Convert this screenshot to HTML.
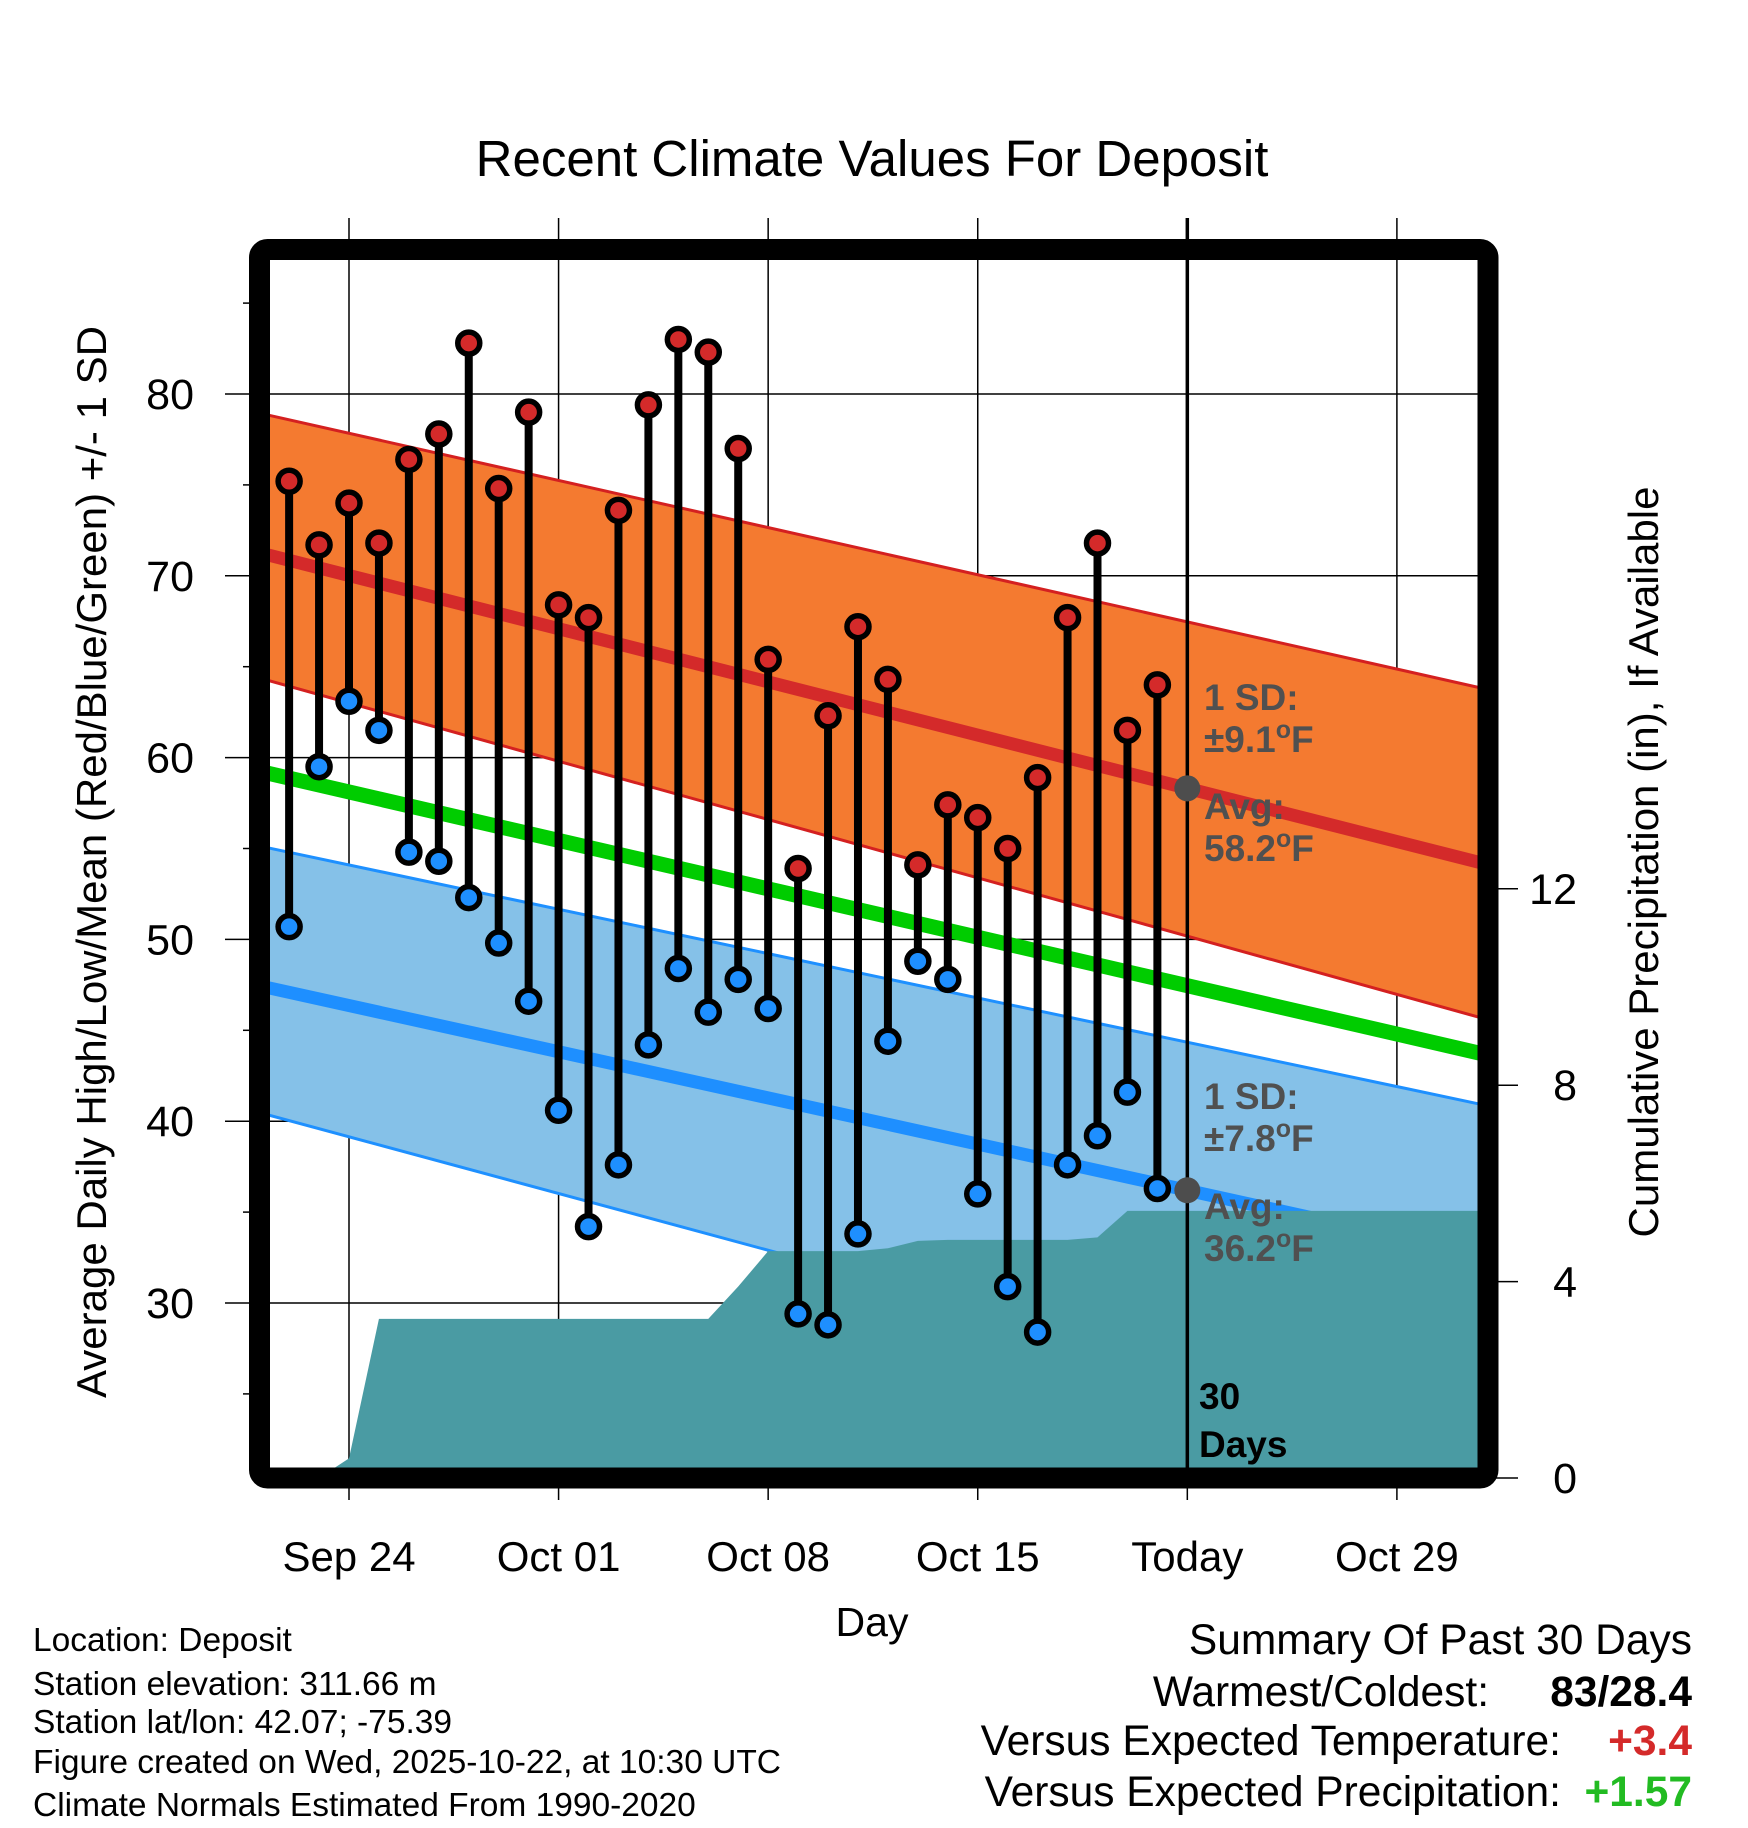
<!DOCTYPE html>
<html><head><meta charset="utf-8"><style>
html,body{margin:0;padding:0;background:#fff;}
svg{display:block;font-family:"Liberation Sans",Arial,sans-serif;}
</style></head><body>
<svg id="chart" width="1748" height="1828" viewBox="0 0 1748 1828" xmlns="http://www.w3.org/2000/svg">
<defs><clipPath id="clip"><rect x="270" y="260" width="1208" height="1208"/></clipPath></defs>
<text x="872" y="176" font-size="51" text-anchor="middle">Recent Climate Values For Deposit</text>
<g id="grid"></g>
<g id="plot" clip-path="url(#clip)"></g>
<g id="marks"></g>
<rect x="259.5" y="249.5" width="1228.5" height="1228.5" rx="8" fill="none" stroke="#000" stroke-width="21"/>
<g id="axes"></g>
<text transform="translate(106,862) rotate(-90)" font-size="42" text-anchor="middle">Average Daily High/Low/Mean (Red/Blue/Green) +/- 1 SD</text>
<text transform="translate(1658,862) rotate(-90)" font-size="42" text-anchor="middle">Cumulative Precipitation (in), If Available</text>
<text x="872" y="1636" font-size="41" text-anchor="middle">Day</text>
<g font-size="33.5">
<text x="33" y="1651">Location: Deposit</text>
<text x="33" y="1695">Station elevation: 311.66 m</text>
<text x="33" y="1733">Station lat/lon: 42.07; -75.39</text>
<text x="33" y="1773">Figure created on Wed, 2025-10-22, at 10:30 UTC</text>
<text x="33" y="1816">Climate Normals Estimated From 1990-2020</text>
</g>
<g font-size="42.5">
<text x="1692" y="1654" text-anchor="end">Summary Of Past 30 Days</text>
<text x="1489" y="1706" text-anchor="end">Warmest/Coldest:</text>
<text x="1692" y="1706" text-anchor="end" font-weight="bold">83/28.4</text>
<text x="1561" y="1755" text-anchor="end">Versus Expected Temperature:</text>
<text x="1692" y="1755" text-anchor="end" font-weight="bold" fill="#d42a2a">+3.4</text>
<text x="1561" y="1806" text-anchor="end">Versus Expected Precipitation:</text>
<text x="1692" y="1806" text-anchor="end" font-weight="bold" fill="#22bb22">+1.57</text>
</g>
</svg>
<script>
const days = [-2,-1,0,1,2,3,4,5,6,7,8,9,10,11,12,13,14,15,16,17,18,19,20,21,22,23,24,25,26,27];
const highs = [75.2,71.7,74.0,71.8,76.4,77.8,82.8,74.8,79.0,68.4,67.7,73.6,79.4,83.0,82.3,77.0,65.4,53.9,62.3,67.2,64.3,54.1,57.4,56.7,55.0,58.9,67.7,71.8,61.5,64.0];
const lows = [50.7,59.5,63.1,61.5,54.8,54.3,52.3,49.8,46.6,40.6,34.2,37.6,44.2,48.4,46.0,47.8,46.2,29.4,28.8,33.8,44.4,48.8,47.8,36.0,30.9,28.4,37.6,39.2,41.6,36.3];
const precip = [0,0,0.4,3.24,3.24,3.24,3.24,3.24,3.24,3.24,3.24,3.24,3.24,3.24,3.24,3.9,4.62,4.62,4.62,4.62,4.68,4.83,4.85,4.85,4.85,4.85,4.85,4.9,5.44,5.44];
const normalDays = [-3,38];
const hiTop = [78.95,63.76];
const hiBot = [64.38,45.6];
const hiMean = [71.27,54.13];
const loTop = [55.14,40.86];
const loBot = [40.48,22.2];
const loMean = [47.45,32.57];
const avgMean = [59.25,43.65];
const xTickDays = [0,7,14,21,28,35];
const xTickLabels = ["Sep 24","Oct 01","Oct 08","Oct 15","Today","Oct 29"];
const yTicks = [30,40,50,60,70,80];
const y2Ticks = [0,4,8,12];
const todayDay = 28;

const NS="http://www.w3.org/2000/svg";
const X=d=>349+d*29.94;
const Y=t=>394+(80-t)*18.18;
const P=p=>1478-p*49.1;
function mk(tag,parent,attrs){const e=document.createElementNS(NS,tag);for(const k in attrs)e.setAttribute(k,attrs[k]);parent.appendChild(e);return e;}
const grid=document.getElementById('grid'),plot=document.getElementById('plot'),marks=document.getElementById('marks'),axes=document.getElementById('axes');

xTickDays.forEach((d,i)=>{
  const l=mk('line',grid,{x1:X(d),x2:X(d),y1:218,y2:1500,stroke:'#000','stroke-width':1.5});
  
  
  const t=mk('text',axes,{x:X(d),y:1571,'font-size':42,'text-anchor':'middle'});
  t.textContent=xTickLabels[i];
  
  
});
yTicks.forEach(v=>{
  const l=mk('line',grid,{x1:225,x2:1478,y1:Y(v),y2:Y(v),stroke:'#000','stroke-width':1.5});
  
  
  const t=mk('text',axes,{x:194,y:Y(v)+15,'font-size':43,'text-anchor':'end'});
  t.textContent=v;
  
  
});
for(let v=25;v<=85;v+=10){
  const l=mk('line',grid,{x1:243,x2:255,y1:Y(v),y2:Y(v),stroke:'#000','stroke-width':1.5});
  
  
}
y2Ticks.forEach(v=>{
  const l=mk('line',axes,{x1:1488,x2:1518,y1:P(v),y2:P(v),stroke:'#000','stroke-width':1.5});
  
  
  const t=mk('text',axes,{x:1577,y:P(v)+15,'font-size':43,'text-anchor':'end'});
  t.textContent=v;
  
  
});

function band(top,bot,fill,edge,name){
  const pts=[[X(normalDays[0]),Y(top[0])],[X(normalDays[1]),Y(top[1])],[X(normalDays[1]),Y(bot[1])],[X(normalDays[0]),Y(bot[0])]];
  const p=mk('polygon',plot,{points:pts.map(q=>q.join(',')).join(' '),fill:fill});
  
  
  [top,bot].forEach(a=>{mk('line',plot,{x1:X(normalDays[0]),y1:Y(a[0]),x2:X(normalDays[1]),y2:Y(a[1]),stroke:edge,'stroke-width':3});});
}
function meanLine(a,col,w,name){
  const l=mk('line',plot,{x1:X(normalDays[0]),y1:Y(a[0]),x2:X(normalDays[1]),y2:Y(a[1]),stroke:col,'stroke-width':w});
  
  
}
band(hiTop,hiBot,'#f47a30','#d42020','high-sd-band');
meanLine(hiMean,'#d42a2a',13,'high-mean-line');
band(loTop,loBot,'#85c1e8','#1e90ff','low-sd-band');
meanLine(loMean,'#1e8fff',13,'low-mean-line');
meanLine(avgMean,'#00cc00',15,'mean-line');

let pts=[[X(-3),1490],[X(days[0]),P(precip[0])]];
days.forEach((d,i)=>pts.push([X(d),P(precip[i])]));
pts.push([X(38),P(precip[precip.length-1])]);
pts.push([X(38),1490]);
const pa=mk('polygon',plot,{points:pts.map(q=>q.join(',')).join(' '),fill:'#4a9ba3'});



const tl=mk('line',marks,{x1:X(todayDay),x2:X(todayDay),y1:218,y2:1478,stroke:'#000','stroke-width':3.5});



days.forEach((d,i)=>{
  const s=mk('line',marks,{x1:X(d),x2:X(d),y1:Y(highs[i]),y2:Y(lows[i]),stroke:'#000','stroke-width':8});
  
  
});
days.forEach((d,i)=>{
  const h=mk('circle',marks,{cx:X(d),cy:Y(highs[i]),r:11,fill:'#d42a2a',stroke:'#000','stroke-width':5.5});
  
  
  const l=mk('circle',marks,{cx:X(d),cy:Y(lows[i]),r:11,fill:'#1e8fff',stroke:'#000','stroke-width':5.5});
  
  
});

function todayVal(a){return a[0]+(a[1]-a[0])*(todayDay-normalDays[0])/(normalDays[1]-normalDays[0]);}
[hiMean,loMean].forEach(a=>{
  const c=mk('circle',marks,{cx:X(todayDay),cy:Y(todayVal(a)),r:13,fill:'#4d4d4d'});
  
  
});

function txt(x,y,s,col,name){
  const t=mk('text',marks,{x:x,y:y,'font-size':37,'font-weight':'bold',fill:col});
  t.innerHTML=s;
  
  
}
const ax=1204;
const deg='<tspan font-size="25" dy="-14">o</tspan><tspan dy="14">F</tspan>';
txt(ax,710,'1 SD:','#505050','high-sd-label');
txt(ax,752,'±9.1'+deg,'#505050','high-sd-value');
txt(ax,819,'Avg:','#505050','high-avg-label');
txt(ax,861,'58.2'+deg,'#505050','high-avg-value');
txt(ax,1109,'1 SD:','#505050','low-sd-label');
txt(ax,1151,'±7.8'+deg,'#505050','low-sd-value');
txt(ax,1219,'Avg:','#505050','low-avg-label');
txt(ax,1261,'36.2'+deg,'#505050','low-avg-value');
txt(1199,1409,'30','#000','days-count');
txt(1199,1457,'Days','#000','days-label');
</script>
</body></html>
